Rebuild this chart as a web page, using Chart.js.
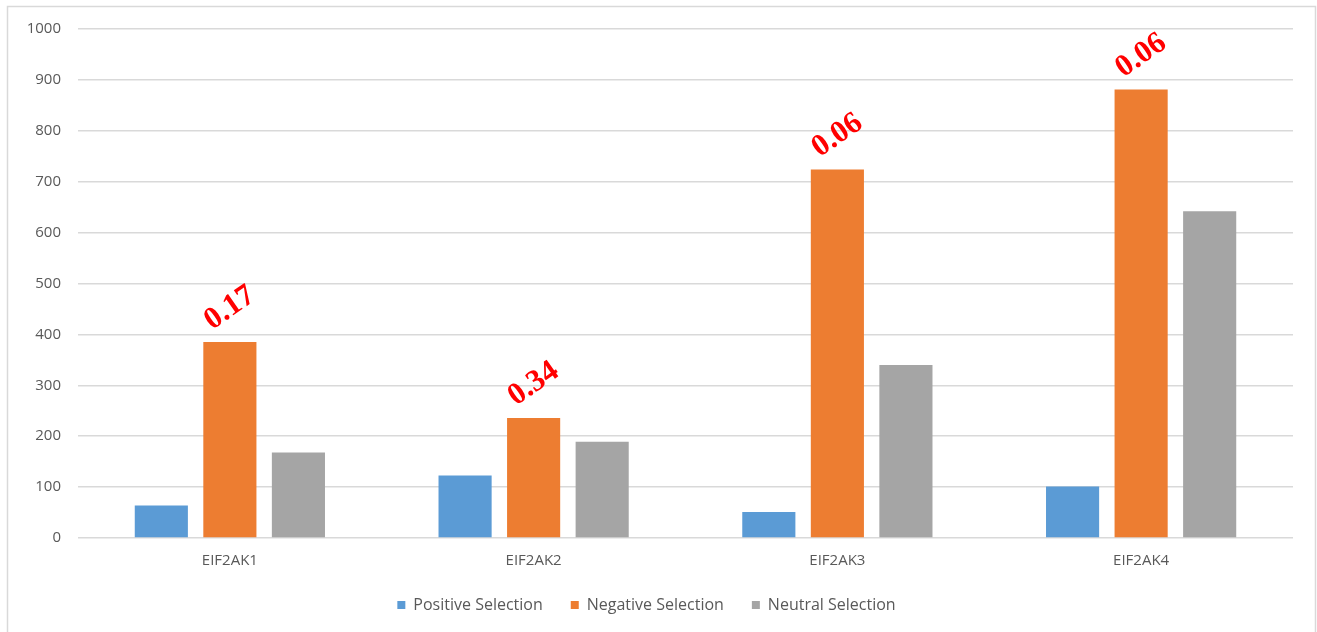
<!DOCTYPE html>
<html>
<head>
<meta charset="utf-8">
<script src="https://cdn.jsdelivr.net/npm/chart.js@4/dist/chart.umd.min.js"></script>
<style>
  html, body { margin: 0; padding: 0; background: #ffffff; }
  #wrap { width: 1317px; height: 632px; position: relative; }
</style>
</head>
<body>
<div id="wrap"><canvas id="chart" width="1317" height="632"></canvas></div>
<script>
// Genes and counts of sites under each kind of selection
const genes = ['EIF2AK1', 'EIF2AK2', 'EIF2AK3', 'EIF2AK4'];
const positiveSelection = [64, 123, 51, 101];
const negativeSelection = [385, 236, 724, 881];
const neutralSelection = [168, 189, 340, 642];
// Values written above the negative-selection bars
const negativeLabels = ['0.17', '0.34', '0.06', '0.06'];
const yTicks = [0, 100, 200, 300, 400, 500, 600, 700, 800, 900, 1000];

const tickFont = { family: "'Open Sans', 'Liberation Sans', sans-serif", size: 15 };

// Light frame around the chart
const framePlugin = {
  id: 'frame',
  beforeDraw(chart) {
    const ctx = chart.ctx;
    ctx.save();
    ctx.fillStyle = '#ffffff';
    ctx.fillRect(0, 0, chart.width, chart.height);
    ctx.strokeStyle = '#d9d9d9';
    ctx.lineWidth = 1.5;
    ctx.beginPath();
    ctx.moveTo(7.5, chart.height);
    ctx.lineTo(7.5, 6.5);
    ctx.lineTo(1315.5, 6.5);
    ctx.lineTo(1315.5, chart.height);
    ctx.stroke();
    ctx.restore();
  }
};

// Slanted red values above the orange bars
const barLabelPlugin = {
  id: 'barLabels',
  afterDatasetsDraw(chart) {
    const meta = chart.getDatasetMeta(1);
    const ctx = chart.ctx;
    ctx.save();
    ctx.fillStyle = '#ff0000';
    ctx.font = "bold 31px 'Liberation Serif', 'DejaVu Serif', serif";
    ctx.textAlign = 'center';
    ctx.textBaseline = 'middle';
    meta.data.forEach((bar, i) => {
      const txt = negativeLabels[i];
      if (!txt) return;
      ctx.save();
      ctx.translate(bar.x, bar.y - 34);
      ctx.rotate(-35 * Math.PI / 180);
      ctx.fillText(txt, 0, 0);
      ctx.restore();
    });
    ctx.restore();
  }
};

new Chart(document.getElementById('chart'), {
  type: 'bar',
  data: {
    labels: genes,
    datasets: [
      { label: 'Positive Selection', data: positiveSelection, backgroundColor: '#5b9bd5' },
      { label: 'Negative Selection', data: negativeSelection, backgroundColor: '#ed7d31' },
      { label: 'Neutral Selection', data: neutralSelection, backgroundColor: '#a5a5a5' }
    ]
  },
  options: {
    responsive: false,
    animation: false,
    devicePixelRatio: 1,
    categoryPercentage: 0.677,
    barPercentage: 0.775,
    layout: { padding: { top: 29, right: 24, bottom: 9, left: 0 } },
    plugins: {
      legend: {
        position: 'bottom',
        labels: {
          boxWidth: 8,
          boxHeight: 8,
          padding: 28,
          color: '#595959',
          font: { family: "'Open Sans', 'Liberation Sans', sans-serif", size: 16 }
        }
      },
      tooltip: { enabled: false }
    },
    scales: {
      x: {
        grid: { display: false, drawTicks: false },
        border: { display: false },
        ticks: { color: '#595959', font: tickFont, padding: 14 },
        afterFit(scale) { scale.height = 31; }
      },
      y: {
        min: 0,
        max: 1000,
        afterBuildTicks(scale) { scale.ticks = yTicks.map(v => ({ value: v })); },
        grid: { color: '#d9d9d9', lineWidth: 1.5, drawTicks: false },
        border: { display: false },
        ticks: { color: '#595959', font: tickFont, padding: 17, callback: v => String(v) },
        afterFit(scale) { scale.width = 78; }
      }
    }
  },
  plugins: [framePlugin, barLabelPlugin]
});
</script>
</body>
</html>
